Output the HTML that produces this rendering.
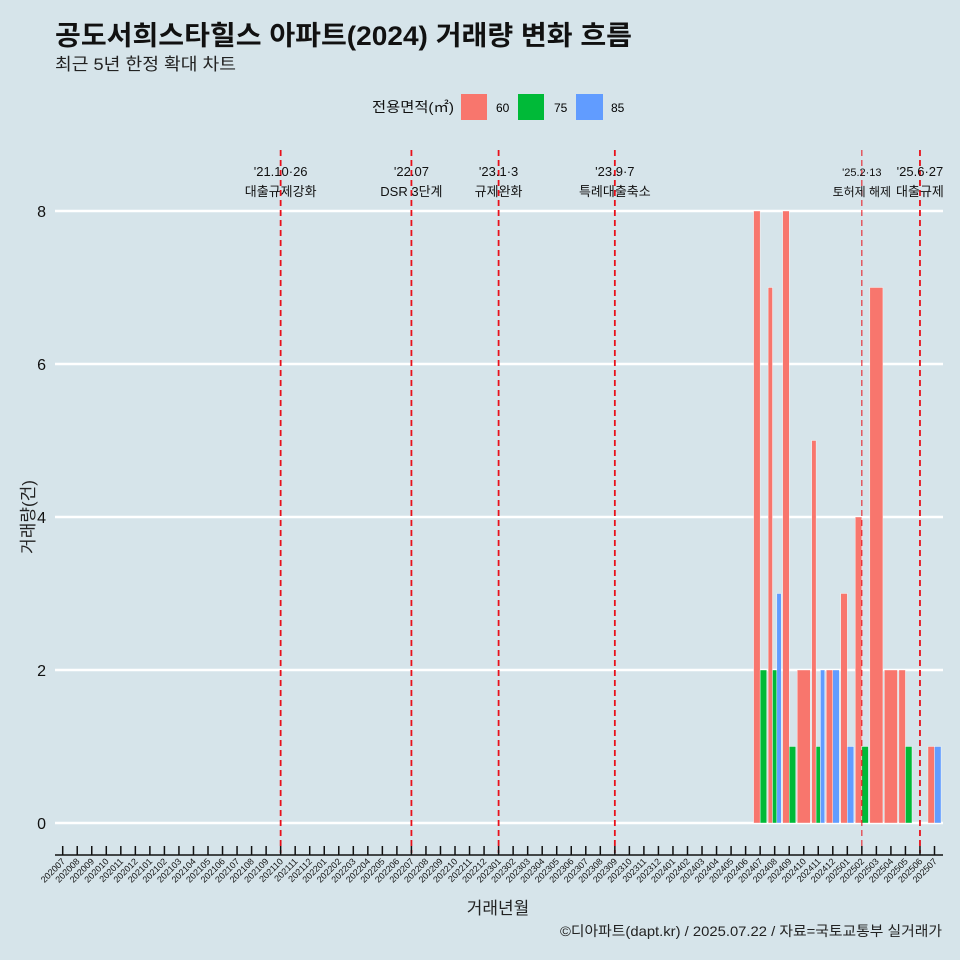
<!DOCTYPE html>
<html><head><meta charset="utf-8"><style>
body{margin:0;background:#d6e4ea;}
svg{display:block;font-family:"Liberation Sans","Noto Sans CJK KR",sans-serif;}
</style></head><body>
<svg id="c" width="960" height="960" viewBox="0 0 960 960">
<rect width="960" height="960" fill="#d6e4ea"/>
<text x="55" y="45" font-size="27" font-weight="bold" fill="#111" textLength="577" lengthAdjust="spacingAndGlyphs">공도서희스타힐스 아파트(2024) 거래량 변화 흐름</text>
<text x="55" y="70" font-size="17" fill="#222" textLength="181" lengthAdjust="spacingAndGlyphs">최근 5년 한정 확대 차트</text>
<g>
<text x="372" y="112" font-size="14" fill="#111" textLength="82" lengthAdjust="spacingAndGlyphs">전용면적(㎡)</text>
<rect x="461" y="94" width="26" height="26" fill="#f8766d"/>
<text x="496" y="112" font-size="12">60</text>
<rect x="518" y="94" width="26" height="26" fill="#00ba38"/>
<text x="554" y="112" font-size="12">75</text>
<rect x="576" y="94" width="27" height="26" fill="#619cff"/>
<text x="611" y="112" font-size="12">85</text>
</g>
<g id="grid"></g><g id="bars"></g><g id="vl"></g><g id="axes"></g>
<text x="34" y="517" font-size="17" fill="#222" transform="rotate(-90 34 517)" text-anchor="middle">거래량(건)</text>
<text x="498" y="914" font-size="17" fill="#222" text-anchor="middle">거래년월</text>
<text x="942" y="936" font-size="14" fill="#222" text-anchor="end" textLength="382" lengthAdjust="spacingAndGlyphs">©디아파트(dapt.kr) / 2025.07.22 / 자료=국토교통부 실거래가</text>
</svg>
<script>
const months=[];for(let y=2020;y<=2025;y++)for(let m=1;m<=12;m++){const k=y*100+m;if(k>=202007&&k<=202507)months.push(String(k));}
const barMonths=["202407","202408","202409","202410","202411","202412","202501","202502","202503","202504","202505","202507"];
const v60=[8,7,8,2,5,2,3,4,7,2,2,1];
const v75=[2,2,1,0,1,0,0,1,0,0,1,0];
const v85=[0,3,0,0,2,2,1,0,0,0,0,1];
const yTicks=[0,2,4,6,8];
const eventMonths=["202110","202207","202301","202309","202502","202506"];
const eventLine1=["'21.10·26","'22.07","'23.1·3","'23.9·7","'25.2·13","'25.6·27"];
const eventLine2=["대출규제강화","DSR 3단계","규제완화","특례대출축소","토허제 해제","대출규제"];
const NS="http://www.w3.org/2000/svg";
const X0=62.7,DX=14.53,Y0=823,DY=76.5;
const xs=m=>X0+months.indexOf(m)*DX, ys=v=>Y0-v*DY;
function el(t,a,p){const e=document.createElementNS(NS,t);for(const k in a)e.setAttribute(k,a[k]);document.getElementById(p).appendChild(e);return e;}
yTicks.forEach(t=>{
 const l=el('line',{x1:55,x2:943,y1:ys(t),y2:ys(t),stroke:'#fff','stroke-width':2.5},'grid');
 
 
 const tx=el('text',{x:46,y:ys(t)+6,'font-size':16,'text-anchor':'end',fill:'#111'},'axes');tx.textContent=t;
 
 
});
const cols=["#f8766d","#00ba38","#619cff"],ser=[v60,v75,v85],sn=["60","75","85"];
barMonths.forEach((m,i)=>{
 const present=[0,1,2].filter(s=>ser[s][i]>0);
 const w=0.9*DX,bw=w/present.length,cx=xs(m);
 present.forEach((s,j)=>{
  const v=ser[s][i];
  const r=el('rect',{x:cx-w/2+j*bw,y:ys(v),width:bw,height:v*DY,fill:cols[s],stroke:'#fff','stroke-width':0.4},'bars');
  
  
 });
});
eventMonths.forEach((m,i)=>{
 const x=xs(m);
 const l=el('line',{x1:x,x2:x,y1:150,y2:853,stroke:'#e8101a','stroke-width':i==4?1:1.8,'stroke-dasharray':'6,4'},'vl');
 
 
 const t1=el('text',{x:x,y:176,'font-size':i==4?11:13,'text-anchor':'middle',fill:'#111'},'vl');t1.textContent=eventLine1[i];
 
 
 const t2=el('text',{x:x,y:196,'font-size':i==4?12:13,'text-anchor':'middle',fill:'#111'},'vl');t2.textContent=eventLine2[i];
 
 
});
const ax=el('line',{x1:55,x2:943,y1:855,y2:855,stroke:'#111','stroke-width':1.5},'axes');


months.forEach(m=>{
 const x=xs(m);
 const t=el('line',{x1:x,x2:x,y1:846,y2:855,stroke:'#111','stroke-width':1.5},'axes');
 
 
 const tx=el('text',{x:x+3,y:862,'font-size':9,'text-anchor':'end',fill:'#111',transform:`rotate(-45 ${x+3} 862)`},'axes');tx.textContent=m;
 
 
});
</script>
</body></html>
